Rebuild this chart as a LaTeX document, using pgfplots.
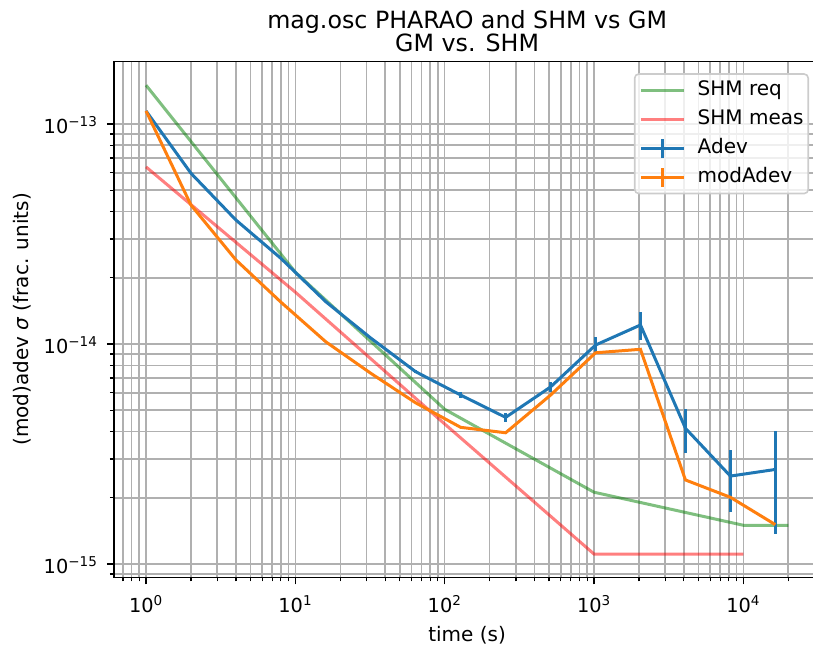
\documentclass[border=0pt]{standalone}
\usepackage{fontspec}
\setmainfont{DejaVu Sans}
\usepackage{pgfplots}
\pgfplotsset{compat=1.18}

\definecolor{adevblue}{HTML}{1F77B4}
\definecolor{modorange}{HTML}{FF7F0E}
\definecolor{reqgreen}{RGB}{0,128,0}
\definecolor{measred}{RGB}{255,0,0}
\definecolor{gridgray}{HTML}{B0B0B0}
\definecolor{framegray}{HTML}{CCCCCC}

\newcommand{\lblfont}{\fontsize{15}{18}\selectfont}
\newcommand{\tickfont}{\fontsize{14.5}{17}\selectfont}
\newcommand{\titlefont}{\fontsize{17.8}{21}\selectfont}

\pgfplotsset{
  linelegend/.style={legend image code/.code={\draw[##1] (0pt,0pt) -- (32pt,0pt);}},
  barlegend/.style={legend image code/.code={\draw[##1] (0pt,0pt) -- (32pt,0pt); \draw[##1, overlay] (16pt,-7pt) -- (16pt,7pt);}},
}

\begin{document}
\begin{tikzpicture}
\begin{axis}[
  scale only axis,
  width=529.8pt, height=386.9pt,
  xmode=log, ymode=log,
  xmin=0.609, xmax=32800,
  ymin=8.69e-16, ymax=1.923e-13,
  xtick={1,10,100,1000,10000},
  xticklabels={10\textsuperscript{0},10\textsuperscript{1},10\textsuperscript{2},10\textsuperscript{3},10\textsuperscript{4}},
  minor xtick={0.7,0.8,0.9,2,3,4,5,6,7,8,9,20,30,40,50,60,70,80,90,200,300,400,500,600,700,800,900,2000,3000,4000,5000,6000,7000,8000,9000,20000,30000},
  ytick={1e-15,1e-14,1e-13},
  yticklabels={10\textsuperscript{−15},10\textsuperscript{−14},10\textsuperscript{−13}},
  minor ytick={9e-16,2e-15,3e-15,4e-15,5e-15,6e-15,7e-15,8e-15,9e-15,2e-14,3e-14,4e-14,5e-14,6e-14,7e-14,8e-14,9e-14},
  tick align=outside, tick pos=left,
  major tick length=5.25pt, minor tick length=3pt,
  major tick style={black, line width=1.2pt},
  minor tick style={black, line width=0.9pt},
  grid=both,
  major grid style={gridgray, line width=1.2pt},
  minor grid style={gridgray, line width=1.2pt},
  axis line style={black, line width=1.2pt},
  xticklabel style={font=\tickfont, anchor=base, inner sep=0pt, yshift=-21.25pt},
  yticklabel style={font=\tickfont, anchor=base east, inner sep=0pt, yshift=-7.3pt, xshift=-6.8pt},
  legend style={
    at={(rel axis cs:1,1)}, anchor=north east,
    xshift=-8.5pt, yshift=-8.8pt,
    font=\lblfont,
    draw=framegray, line width=1.2pt, rounded corners=3pt,
    fill=white, fill opacity=0.8, text opacity=1,
    inner xsep=3.5pt, inner ysep=5pt,
    row sep=7.2pt, column sep=9.5pt,
    nodes={inner sep=0pt, text height=11pt, text depth=3.5pt},
  },
  legend cell align=left,
]
\coordinate (A) at (rel axis cs:0,0);
\coordinate (B) at (rel axis cs:1,1);
\coordinate (T) at (rel axis cs:0.5,1);
\coordinate (L) at (rel axis cs:0,0.5);
\coordinate (D) at (rel axis cs:0.5,0);

% SHM requirement
\addplot[reqgreen, draw opacity=0.5, line width=2.25pt, linelegend]
  coordinates {(1,1.50e-13) (10,2.12e-14) (100,5.05e-15) (1000,2.12e-15) (10000,1.50e-15) (20000,1.50e-15)};
\addlegendentry{SHM req}

% SHM measured
\addplot[measred, draw opacity=0.5, line width=2.25pt, linelegend]
  coordinates {(1,6.38e-14) (10,1.72e-14) (100,4.33e-15) (1000,1.11e-15) (10000,1.11e-15)};
\addlegendentry{SHM meas}

% Allan deviation with error bars
\addplot[adevblue, line width=2.25pt, barlegend,
  error bars/.cd, y dir=both, y explicit, error mark=none,
  error bar style={line width=2.25pt}]
  coordinates {
    (1,1.146e-13) +- (0,0)
    (2,5.97e-14) +- (0,0)
    (4,3.66e-14) +- (0,0)
    (8,2.45e-14) +- (0,0)
    (16,1.556e-14) +- (0,0)
    (32,1.064e-14) +- (0,0.05e-15)
    (64,7.48e-15) +- (0,0.1e-15)
    (128,5.86e-15) +- (0,0.18e-15)
    (256,4.64e-15) +- (0,0.23e-15)
    (512,6.38e-15) +- (0,0.34e-15)
    (1024,9.89e-15) +- (0,0.9e-15)
    (2048,1.22e-14) +- (0,1.8e-15)
    (4096,4.14e-15) +- (0,0.93e-15)
    (8192,2.51e-15) +- (0,0.78e-15)
    (16384,2.69e-15) +- (0,1.32e-15)
  };
\addlegendentry{Adev}

% modified Allan deviation
\addplot[modorange, line width=2.25pt, barlegend]
  coordinates {(1,1.146e-13) (2,4.28e-14) (4,2.41e-14) (8,1.55e-14) (16,1.023e-14) (32,7.36e-15) (64,5.4e-15) (128,4.18e-15) (256,3.95e-15) (512,5.86e-15) (1024,9.12e-15) (2048,9.46e-15) (4096,2.41e-15) (8192,2.01e-15) (16384,1.51e-15)};
\addlegendentry{modAdev}
\end{axis}

\node[anchor=base, font=\titlefont] at ([yshift=7.35pt]T) {GM vs. SHM};
\node[anchor=base, font=\titlefont] at ([yshift=24.85pt]T) {mag.osc PHARAO and SHM vs GM};
\node[anchor=base, font=\lblfont] at ([yshift=-48pt]D) {time (s)};
\node[rotate=90, anchor=center, font=\lblfont] at ([xshift=-68.9pt]L) {(mod)adev {\itshape σ} (frac. units)};

\pgfresetboundingbox
\useasboundingbox ([xshift=-85.4pt,yshift=-54.45pt]A) rectangle ([xshift=-5.5pt,yshift=46.1pt]B);
\end{tikzpicture}
\end{document}
